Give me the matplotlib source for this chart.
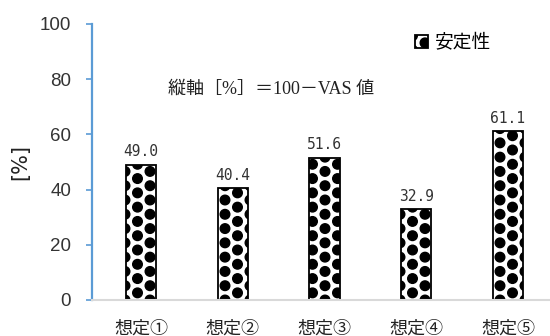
import numpy as np
import matplotlib
matplotlib.use('Agg')
import matplotlib.pyplot as plt
import matplotlib.hatch as mhatch
from matplotlib.path import Path
from matplotlib import font_manager

# Data
categories = ['想定①', '想定②', '想定③', '想定④', '想定⑤']
values = [49.0, 40.4, 51.6, 32.9, 61.1]
yticks = [0, 20, 40, 60, 80, 100]
series_name = '安定性'
note = '縦軸［%］＝100－VAS 値'
ylabel = '[%]'


class StaggeredDots(mhatch.HatchPatternBase):
    """Large filled dots on a staggered lattice, used for the '.' hatch."""
    n_cols = 8
    n_rows = 7
    radius = 0.048

    def __init__(self, hatch, density):
        circle = Path.unit_circle()
        self.shape_vertices = circle.vertices
        self.shape_codes = circle.codes
        count = (self.n_cols + 1) * (self.n_rows + 2) if '.' in hatch else 0
        self.num_vertices = count * len(self.shape_vertices)

    def set_vertices_and_codes(self, vertices, codes):
        dx = 1.0 / self.n_cols
        dy = 1.0 / self.n_rows
        verts, cods = [], []
        for i in range(self.n_cols + 1):
            shift = (i % 2) * dy / 2
            for j in range(-1, self.n_rows + 1):
                verts.append(self.shape_vertices * self.radius
                             + [i * dx, j * dy + shift])
                cods.append(self.shape_codes)
        vertices[:] = np.concatenate(verts)
        codes[:] = np.concatenate(cods)


mhatch._hatch_types = [StaggeredDots if t is mhatch.SmallFilledCircles else t
                       for t in mhatch._hatch_types]

installed = {f.name for f in font_manager.fontManager.ttflist}
narrow = 'Liberation Sans Narrow' if 'Liberation Sans Narrow' in installed else 'Liberation Sans'
cjk = 'Noto Sans CJK JP'
plt.rcParams['font.family'] = ['DejaVu Sans', cjk]
plt.rcParams['hatch.linewidth'] = 1.0

W, H = 550, 336
fig = plt.figure(figsize=(W / 100, H / 100), dpi=100)
ax = fig.add_axes([92 / W, 36 / H, 458 / W, 276 / H])

x = np.arange(len(categories))
bars = ax.bar(x, values, width=0.33, facecolor='white', edgecolor='black',
              linewidth=1.3, hatch='.', label=series_name)

for xi, v in zip(x, values):
    ax.annotate(f'{v:.1f}', (xi, v), xytext=(0, 6), textcoords='offset points',
                ha='center', va='baseline', fontsize=10.5,
                family='DejaVu Sans Mono', color='#333333')

ax.set_xlim(-0.534, 4.458)
ax.set_ylim(0, 100)
ax.set_yticks(yticks)
ax.set_yticklabels([str(t) for t in yticks], family=narrow, fontsize=13.5,
                   color='#333333')
ax.set_xticks(x)
ax.set_xticklabels(categories, family=cjk, fontsize=13, color='#222222')
ax.tick_params(axis='x', length=0, pad=14)
ax.tick_params(axis='y', length=4, width=1.2, color='#5B9BD5', pad=11)

for side in ('top', 'right'):
    ax.spines[side].set_visible(False)
ax.spines['left'].set_color('#5B9BD5')
ax.spines['left'].set_linewidth(1.6)
ax.spines['bottom'].set_color('#D9D9D9')
ax.spines['bottom'].set_linewidth(1.5)

fig.text(20 / W, 1 - 162 / H, ylabel, rotation=90, ha='center', va='center',
         fontsize=15, family='DejaVu Sans', color='#222222')

ax.text(0.39, 0.765, note, transform=ax.transAxes, ha='center', va='center',
        fontsize=13, family=['Liberation Serif', cjk], color='#222222')

ax.legend(loc='upper left', bbox_to_anchor=(0.705, 0.97), frameon=False,
          handlelength=0.7, handleheight=0.7, handletextpad=0.35,
          borderpad=0, borderaxespad=0, prop={'family': cjk, 'size': 13.5})

fig.savefig('out.png', dpi=100)
